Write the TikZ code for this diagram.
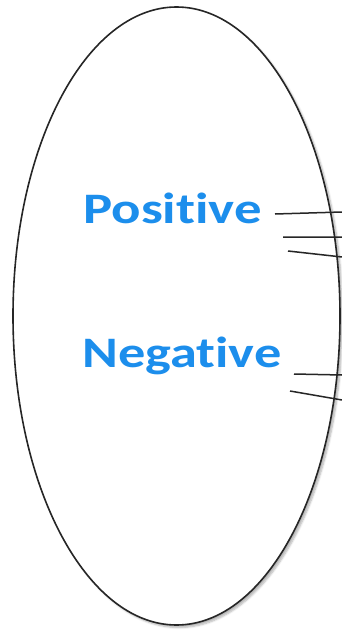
\documentclass[tikz,border=0pt]{standalone}
\usepackage{fontspec}
\setmainfont[Ligatures={NoCommon}]{Carlito}
\usetikzlibrary{shadows.blur}
\definecolor{labelblue}{RGB}{28,142,236}

\begin{document}
\begin{tikzpicture}[x=1pt,y=-1pt,
  lbl/.style={inner sep=0pt,anchor=base west,text=labelblue,
    font=\fontsize{43.5}{44}\selectfont\bfseries},
  tick/.style={line width=1.5pt,black!85}]
\useasboundingbox (0,0) rectangle (342,631);
\draw[line width=1.6pt,black!85,fill=white,
  blur shadow={shadow xshift=2.5pt,shadow yshift=-2.5pt,shadow opacity=30,shadow blur steps=6}]
  (176.5,316) ellipse [x radius=163.5,y radius=309];
\draw
(83,223)node[lbl,xscale=1.26](pos){Positive}
(82,367)node[lbl,xscale=1.25](neg){Negative}
;
\coordinate (p1) at (275,214); \coordinate (q1) at (342,212);
\coordinate (p2) at (283,237); \coordinate (q2) at (342,237);
\coordinate (p3) at (288,251); \coordinate (q3) at (342,257);
\coordinate (n1) at (294,374); \coordinate (m1) at (342,375);
\coordinate (n2) at (290,391); \coordinate (m2) at (342,400);
\draw[tick] (p1)--(q1) (p2)--(q2) (p3)--(q3);
\draw[tick] (n1)--(m1) (n2)--(m2);
\end{tikzpicture}
\end{document}
